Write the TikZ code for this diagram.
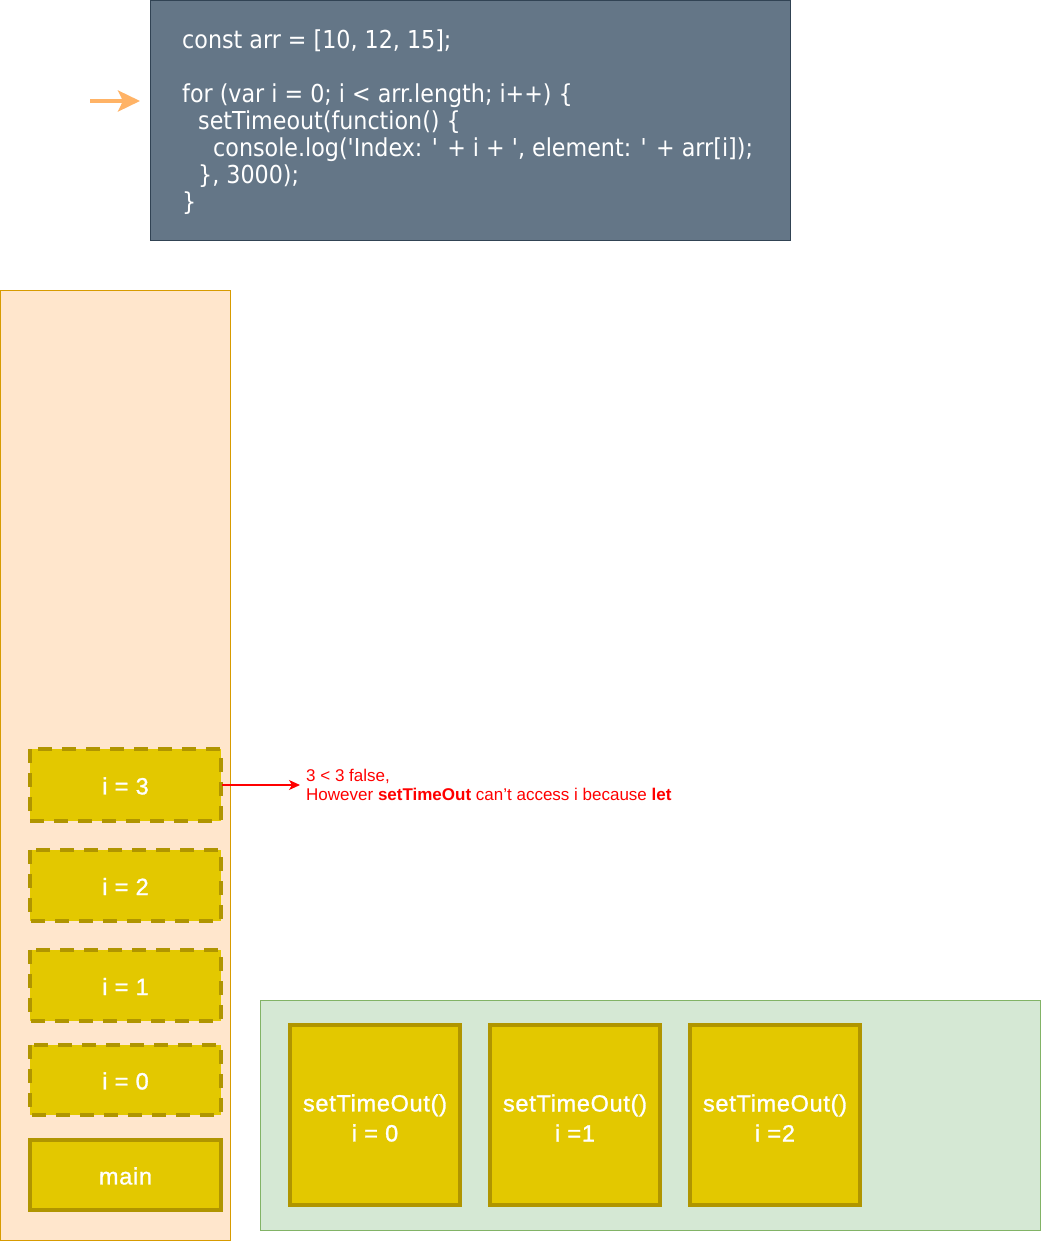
\documentclass[tikz,border=0pt]{standalone}
\usepackage{fontspec}
\setmainfont{Liberation Sans}
\newfontfamily\codefont{DejaVu Sans Condensed}
\newfontfamily\labelfont[LetterSpace=3,FakeBold=1.2]{Liberation Sans}
\usetikzlibrary{arrows.meta}
\definecolor{codebg}{HTML}{647687}
\definecolor{codeborder}{HTML}{314354}
\definecolor{stackbg}{HTML}{FFE6CC}
\definecolor{stackborder}{HTML}{D79B00}
\definecolor{framefill}{HTML}{E3C800}
\definecolor{framestroke}{HTML}{B09500}
\definecolor{queuebg}{HTML}{D5E8D4}
\definecolor{queueborder}{HTML}{82B366}
\definecolor{arroworange}{HTML}{FFB366}
\tikzset{
  x=1pt,y=-1pt,
  codebox/.style={draw=codeborder,fill=codebg,line width=0.8pt},
  stackbox/.style={draw=stackborder,fill=stackbg,line width=0.8pt},
  queuebox/.style={draw=queueborder,fill=queuebg,line width=0.8pt},
  framebox/.style={draw=framestroke,fill=framefill,line width=4pt},
  dashframe/.style={framebox,dash pattern=on 14pt off 10pt},
  lbl/.style={text=white,align=center,font=\labelfont\fontsize{23.5}{30}\selectfont},
  codeline/.style={anchor=base west,text=white,inner sep=0pt,font=\codefont\fontsize{24.7}{27}\selectfont},
}
\begin{document}
\begin{tikzpicture}
\useasboundingbox (0,0) rectangle (1041,1241);
% code box
\draw[codebox] (150.5,0.5) rectangle (790,240);
\node[codeline] (l1) at (182,49) {const arr = [10, 12, 15];};
\node[codeline] (l2) at (182,103) {for (var i = 0; i < arr.length; i++) \{};
\node[codeline] (l3) at (198,130) {setTimeout(function() \{};
\node[codeline] (l4) at (213,157) {console.log('Index: ' + i + ', element: ' + arr[i]);};
\node[codeline] (l5) at (198,184) {\}, 3000);};
\node[codeline] (l6) at (182,211) {\}};
\coordinate (oa) at (90,101);
\coordinate (ob) at (140,101);
\draw[arroworange,line width=4pt,-{Stealth[length=22pt,width=21pt,inset=5pt]}] (oa) -- (ob);
% stack
\draw[stackbox] (0.5,290.5) rectangle (230,1240);
\draw[dashframe] (30,749) rectangle (221,821);
\node[lbl] (i3) at (125.5,786) {i = 3};
\draw[dashframe] (30,850) rectangle (221,921);
\node[lbl] (i2) at (125.5,886.5) {i = 2};
\draw[dashframe] (30,950) rectangle (221,1021);
\node[lbl] (i1) at (125.5,986.5) {i = 1};
\draw[dashframe] (30,1045) rectangle (221,1115);
\node[lbl] (i0) at (125.5,1081) {i = 0};
\draw[framebox] (30,1140) rectangle (221,1210);
\node[lbl] (main) at (125.5,1176) {main};
% red annotation
\coordinate (ra) at (222,785);
\coordinate (rb) at (300,785);
\draw[red,line width=1.2pt,-{Stealth[length=11pt,width=10pt,inset=3pt]}] (ra) -- (rb);
\node[anchor=north west,text=red,inner sep=0pt,align=left,font=\fontsize{17}{19.5}\selectfont] (note) at (306,768.5) {3 < 3 false,\\However \textbf{setTimeOut} can't access i because \textbf{let}};
% queue
\draw[queuebox] (260,1000.5) rectangle (1040,1230);
\draw[framebox] (290,1025) rectangle (460,1205);
\node[lbl] (s0) at (375,1118) {setTimeOut()\\i = 0};
\draw[framebox] (490,1025) rectangle (660,1205);
\node[lbl] (s1) at (575,1118) {setTimeOut()\\i =1};
\draw[framebox] (690,1025) rectangle (860,1205);
\node[lbl] (s2) at (775,1118) {setTimeOut()\\i =2};
\end{tikzpicture}
\end{document}
